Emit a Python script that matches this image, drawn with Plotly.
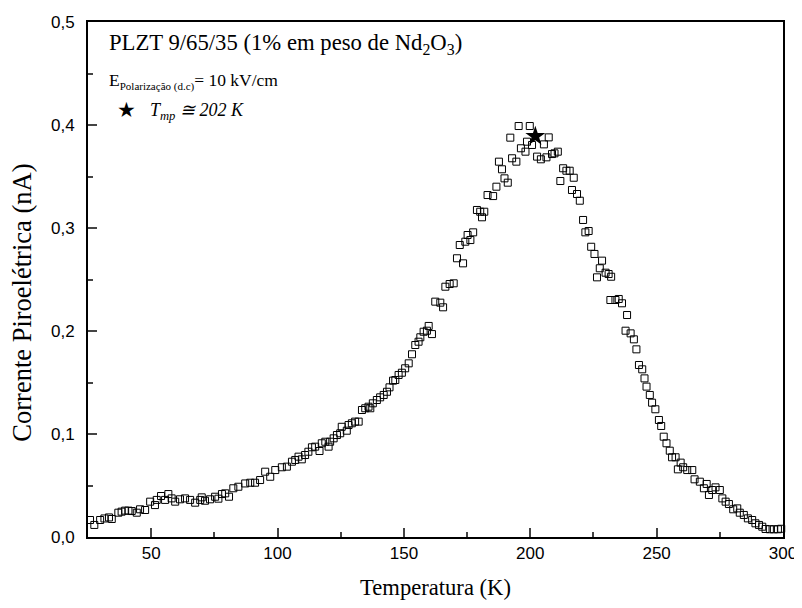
import plotly.graph_objects as go

temperature = [25.8, 27.5, 29.8, 31.5, 33.3, 34.4, 37.0, 38.3, 39.7, 41.0, 42.3, 44.3, 45.6, 47.6,
               49.6, 51.5, 52.2, 53.9, 55.5, 56.8, 58.1, 59.5, 61.4, 63.4, 65.4, 67.4, 69.4, 70.0,
               71.3, 73.3, 75.3, 76.6, 78.0, 79.3, 80.8, 82.5, 84.5, 87.2, 89.2, 91.1, 93.1, 95.1,
               97.1, 99.1, 101.7, 103.7, 105.7, 107.0, 108.3, 109.6, 110.9, 112.2, 113.6, 114.9,
               116.6, 117.5, 118.9, 120.2, 120.8, 122.2, 123.5, 124.8, 125.4, 127.4, 128.1, 129.4,
               130.7, 132.1, 133.4, 134.7, 136.0, 136.7, 137.7, 139.3, 140.6, 142.0, 143.3, 144.3,
               145.7, 146.6, 147.9, 149.2, 150.5, 151.9, 153.2, 154.5, 155.8, 156.5, 157.8, 159.1,
               159.8, 161.1, 162.4, 164.4, 165.5, 166.4, 168.1, 169.7, 171.0, 172.1, 173.4, 174.3,
               175.2, 176.3, 177.4, 178.9, 180.2, 180.9, 181.8, 183.1, 185.3, 186.6, 187.6, 188.8,
               189.8, 191.1, 192.1, 192.8, 194.5, 195.4, 196.3, 198.1, 198.7, 199.8, 200.7, 202.7,
               204.2, 205.4, 206.4, 207.3, 208.6, 209.6, 210.9, 211.9, 213.0, 214.3, 215.6, 216.5,
               217.2, 218.5, 219.6, 220.9, 221.8, 223.1, 224.1, 225.4, 226.4, 227.5, 228.4, 229.8,
               231.0, 232.0, 231.7, 233.7, 235.0, 236.3, 237.7, 238.3, 239.7, 241.0, 242.0, 243.0,
               244.3, 245.2, 246.0, 247.3, 248.2, 249.5, 250.9, 251.8, 252.8, 253.9, 255.2, 256.1,
               257.5, 258.4, 259.5, 260.5, 262.1, 264.1, 265.0, 267.1, 268.7, 269.8, 270.7, 272.0,
               273.3, 275.0, 276.0, 277.3, 278.6, 280.3, 281.9, 282.9, 284.5, 286.1, 287.8, 289.1,
               290.5, 291.8, 293.1, 294.8, 296.4, 298.0, 299.3]

current = [0.0165, 0.0117, 0.0165, 0.0180, 0.0190, 0.0175, 0.0236, 0.0246, 0.0256, 0.0256, 0.0252,
           0.0236, 0.0269, 0.0262, 0.0343, 0.0310, 0.0360, 0.0398, 0.0360, 0.0417, 0.0375, 0.0343,
           0.0366, 0.0375, 0.0360, 0.0333, 0.0360, 0.0385, 0.0352, 0.0366, 0.0391, 0.0372, 0.0417,
           0.0424, 0.0391, 0.0473, 0.0488, 0.0520, 0.0527, 0.0527, 0.0553, 0.0634, 0.0585, 0.0650,
           0.0677, 0.0683, 0.0731, 0.0748, 0.0780, 0.0754, 0.0796, 0.0828, 0.0871, 0.0877, 0.0835,
           0.0910, 0.0925, 0.0877, 0.0925, 0.0958, 0.0990, 0.1007, 0.1070, 0.1032, 0.1087, 0.1104,
           0.1120, 0.1120, 0.1233, 0.1250, 0.1265, 0.1250, 0.1298, 0.1330, 0.1356, 0.1379, 0.1410,
           0.1453, 0.1518, 0.1524, 0.1573, 0.1595, 0.1638, 0.1686, 0.1774, 0.1864, 0.1896, 0.1939,
           0.1993, 0.2003, 0.2049, 0.1970, 0.2285, 0.2275, 0.2230, 0.2430, 0.2456, 0.2463, 0.2706,
           0.2835, 0.2657, 0.2867, 0.2932, 0.2883, 0.2958, 0.3175, 0.3158, 0.3104, 0.3158, 0.3320,
           0.3310, 0.3401, 0.3644, 0.3570, 0.3482, 0.3440, 0.3877, 0.3677, 0.3644, 0.3990, 0.3774,
           0.3741, 0.3838, 0.3990, 0.3806, 0.3693, 0.3667, 0.3812, 0.3686, 0.3880, 0.3718, 0.3725,
           0.3741, 0.3456, 0.3580, 0.3556, 0.3556, 0.3369, 0.3488, 0.3330, 0.3265, 0.3078, 0.2958,
           0.2971, 0.2818, 0.2748, 0.2521, 0.2609, 0.2683, 0.2566, 0.2553, 0.2527, 0.2301, 0.2301,
           0.2311, 0.2269, 0.2003, 0.2155, 0.1977, 0.1919, 0.1822, 0.1670, 0.1628, 0.1540, 0.1460,
           0.1379, 0.1304, 0.1240, 0.1136, 0.1078, 0.0974, 0.0910, 0.0838, 0.0774, 0.0774, 0.0657,
           0.0722, 0.0677, 0.0650, 0.0650, 0.0560, 0.0537, 0.0473, 0.0515, 0.0408, 0.0456, 0.0482,
           0.0456, 0.0375, 0.0343, 0.0320, 0.0269, 0.0278, 0.0236, 0.0214, 0.0181, 0.0165, 0.0133,
           0.0117, 0.0100, 0.0078, 0.0075, 0.0075, 0.0075, 0.0080]

peak_T = [202.0]
peak_I = [0.389]

x_ticks = [50, 100, 150, 200, 250, 300]
y_ticks = [0.0, 0.1, 0.2, 0.3, 0.4, 0.5]
y_tick_labels = ["0,0", "0,1", "0,2", "0,3", "0,4", "0,5"]

serif = "Liberation Serif, Times New Roman, serif"
sans = "Liberation Sans, Arial, sans-serif"

fig = go.Figure()
fig.add_trace(go.Scatter(
    x=temperature, y=current, mode="markers",
    marker=dict(symbol="square-open", size=7, color="black", line=dict(width=1)),
    showlegend=False, cliponaxis=False))
fig.add_trace(go.Scatter(
    x=peak_T, y=peak_I, mode="markers",
    marker=dict(symbol="star", size=15, color="black"),
    showlegend=False))

# page body has an 8px margin, so the figure is offset by 8px
fig.update_layout(
    width=794, height=592,
    margin=dict(l=80, r=19, t=14, b=63),
    paper_bgcolor="white", plot_bgcolor="white",
    font=dict(family=sans, color="black"),
)
fig.update_xaxes(
    range=[25, 300], tickvals=x_ticks, ticks="inside", ticklen=9, tickwidth=1.5,
    showline=True, linewidth=2, linecolor="black", mirror=True, showgrid=False, zeroline=False,
    tickfont=dict(family=sans, size=17), automargin=False,
    minor=dict(dtick=25, tick0=25, ticks="inside", ticklen=5, tickwidth=1.5, showgrid=False),
    title=dict(text="Temperatura (K)", font=dict(family=serif, size=22.6), standoff=30),
)
fig.update_yaxes(
    range=[0, 0.5], tickvals=y_ticks, ticktext=y_tick_labels, ticks="inside", ticklen=9,
    tickwidth=1.5, showline=True, linewidth=2, linecolor="black", mirror=True, showgrid=False,
    zeroline=False, tickfont=dict(family=sans, size=17), ticklabelstandoff=8, automargin=False,
    minor=dict(dtick=0.05, tick0=0, ticks="inside", ticklen=5, tickwidth=1.5, showgrid=False),
)

fig.add_annotation(
    xref="paper", yref="paper", x=-0.095, y=0.455, xanchor="center", yanchor="middle",
    text="Corrente Piroelétrica (nA)", textangle=-90, showarrow=False,
    font=dict(family=serif, size=26.5))
fig.add_annotation(
    xref="paper", yref="paper", x=0.027, y=0.958, xanchor="left", yanchor="middle",
    text="PLZT 9/65/35 (1% em peso de Nd<sub>2</sub>O<sub>3</sub>)", showarrow=False,
    font=dict(family=serif, size=22.7))
fig.add_annotation(
    xref="paper", yref="paper", x=0.027, y=0.885, xanchor="left", yanchor="middle",
    text="E<sub><span style='font-size:11px'>Polarização (d.c)</span></sub>= 10 kV/cm",
    showarrow=False, font=dict(family=serif, size=17.5))
fig.add_annotation(
    xref="paper", yref="paper", x=0.056, y=0.83, xanchor="center", yanchor="middle",
    text="★", showarrow=False, font=dict(family="DejaVu Sans", size=21))
fig.add_annotation(
    xref="paper", yref="paper", x=0.086, y=0.826, xanchor="left", yanchor="middle",
    text="<i>T<sub>mp</sub> ≅ 202 K</i>", showarrow=False,
    font=dict(family=serif, size=18))

fig.write_html("out.html")
